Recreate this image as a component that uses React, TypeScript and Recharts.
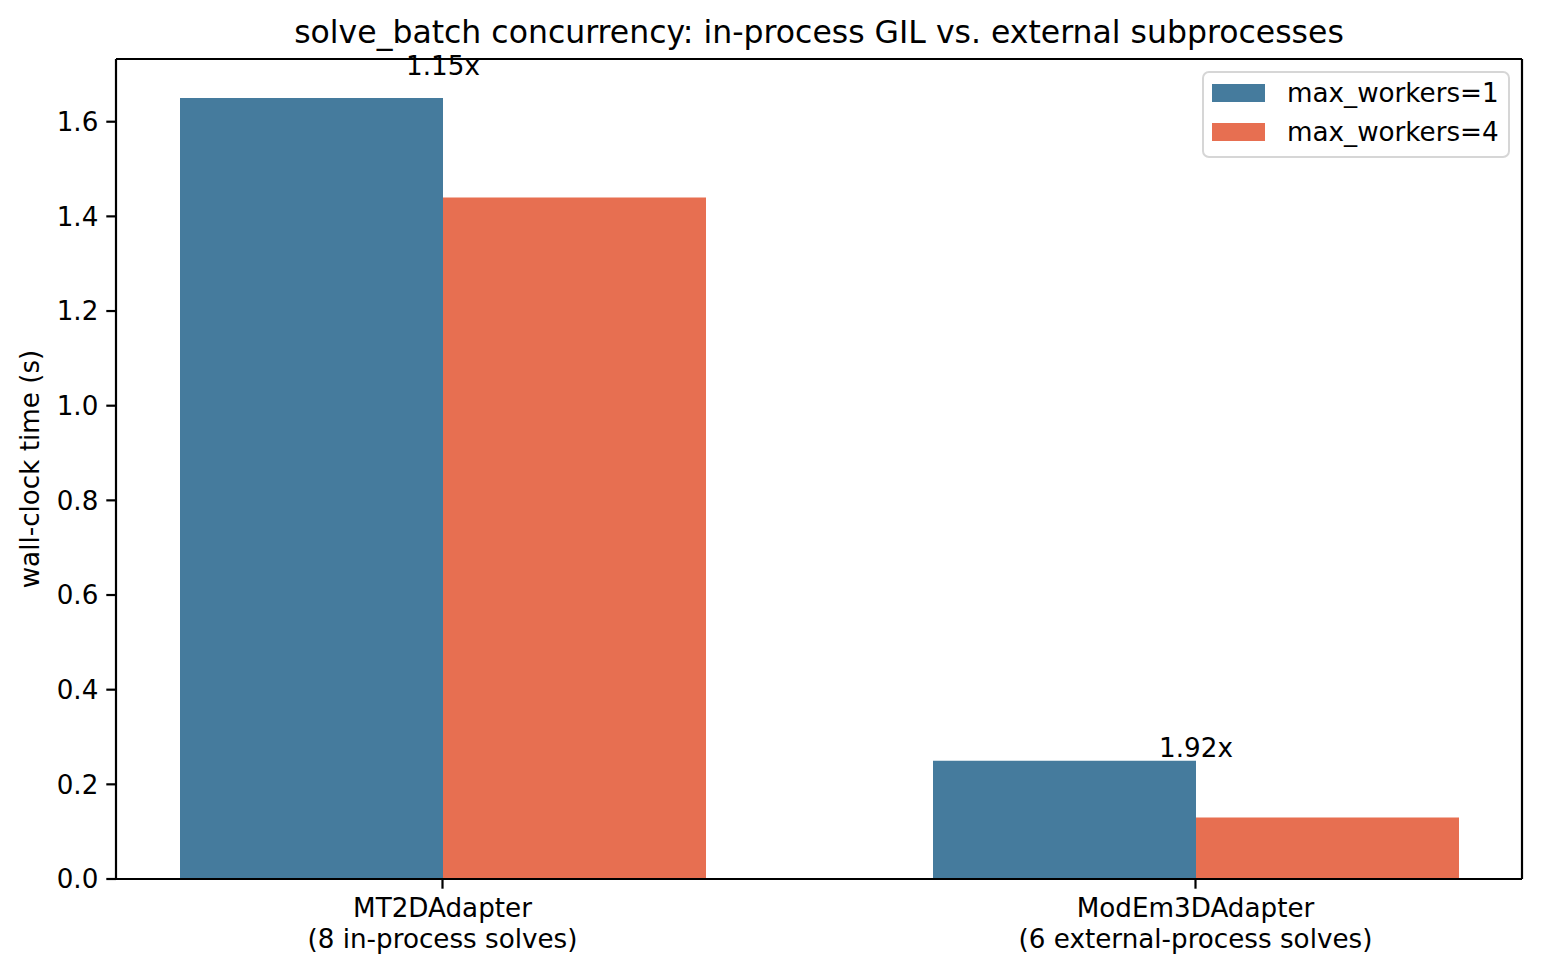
import { Bar, BarChart, LabelList, Legend, XAxis, YAxis } from 'recharts';

const categories = ['MT2DAdapter', 'ModEm3DAdapter'];
const subtitles = ['(8 in-process solves)', '(6 external-process solves)'];
const workers1 = [1.65, 0.25];
const workers4 = [1.44, 0.13];
const speedupLabels = ['1.15x', '1.92x'];
const yTicks = [0, 0.2, 0.4, 0.6, 0.8, 1.0, 1.2, 1.4, 1.6];

const FONT = 'DejaVu Sans';
const FS = 26.2;
const BLUE = '#457b9d';
const ORANGE = '#e76f51';

const data = categories.map((name, i) => ({
  name,
  sub: subtitles[i],
  w1: workers1[i],
  w4: workers4[i],
}));

function XTick(props: any) {
  const { x, y, payload, index } = props;
  return (
    <text x={x} y={y} textAnchor="middle" fontFamily={FONT} fontSize={FS} fill="#000">
      <tspan x={x} dy={28.3}>{payload.value}</tspan>
      <tspan x={x} dy={31}>{subtitles[index]}</tspan>
    </text>
  );
}

function Speedup(props: any) {
  const vb = props.viewBox ?? props;
  const { x, y, width, height } = vb;
  return (
    <text
      x={x + width}
      y={y - 0.03 * height}
      textAnchor="middle"
      fontFamily={FONT}
      fontSize={FS}
      fill="#000"
    >
      {speedupLabels[props.index]}
    </text>
  );
}

function LegendBox({ payload }: any) {
  const items = payload ?? [];
  return (
    <svg width={308} height={87} style={{ display: 'block' }}>
      <rect x={1} y={1} width={306} height={85} rx={6} ry={6} fill="rgba(255,255,255,0.8)" stroke="#d6d6d6" strokeWidth={2} />
      {items.map((e: any, i: number) => (
        <g key={i}>
          <rect x={10} y={13 + i * 39} width={53} height={18} fill={e.color} />
          <text x={85} y={31 + i * 39} fontFamily={FONT} fontSize={FS} fill="#000">
            {e.value}
          </text>
        </g>
      ))}
    </svg>
  );
}

export default function App() {
  const axisLine = { stroke: '#000', strokeWidth: 2.2 };
  return (
    <div style={{ position: 'absolute', left: 0, top: 0, width: 1542, height: 972, background: '#fff' }}>
      <BarChart
        width={1542}
        height={972}
        data={data}
        margin={{ top: 58, right: 19, bottom: 0, left: 0 }}
        barGap={0}
        barSize={263}
      >
        <XAxis
          dataKey="name"
          height={93}
          padding={{ left: -50, right: -50 }}
          axisLine={axisLine}
          tickLine={axisLine}
          tickSize={9.7}
          tickMargin={0}
          tick={<XTick />}
          interval={0}
        />
        <XAxis xAxisId="top" orientation="top" dataKey="name" height={1} tick={false} tickLine={false} axisLine={axisLine} />
        <YAxis
          width={116}
          type="number"
          domain={[0, 1.7325]}
          ticks={yTicks}
          allowDataOverflow
          tickFormatter={(v: number) => v.toFixed(1)}
          axisLine={axisLine}
          tickLine={axisLine}
          tickSize={9.7}
          tickMargin={8}
          tick={{ fontFamily: FONT, fontSize: FS, fill: '#000' }}
        />
        <YAxis yAxisId="right" orientation="right" width={1} type="number" domain={[0, 1]} tick={false} tickLine={false} axisLine={axisLine} />
        <Legend
          layout="vertical"
          align="center"
          verticalAlign="middle"
          wrapperStyle={{ left: 1202, top: 71, width: 308, height: 87 }}
          content={<LegendBox />}
        />
        <Bar dataKey="w1" name="max_workers=1" fill={BLUE} isAnimationActive={false}>
          <LabelList dataKey="w1" content={<Speedup />} />
        </Bar>
        <Bar dataKey="w4" name="max_workers=4" fill={ORANGE} isAnimationActive={false} />
        <text x={819} y={43} textAnchor="middle" fontFamily={FONT} fontSize={31.5} fill="#000">
          solve_batch concurrency: in-process GIL vs. external subprocesses
        </text>
        <text
          x={39}
          y={469}
          transform="rotate(-90 39 469)"
          textAnchor="middle"
          fontFamily={FONT}
          fontSize={FS}
          fill="#000"
        >
          wall-clock time (s)
        </text>
      </BarChart>
    </div>
  );
}
